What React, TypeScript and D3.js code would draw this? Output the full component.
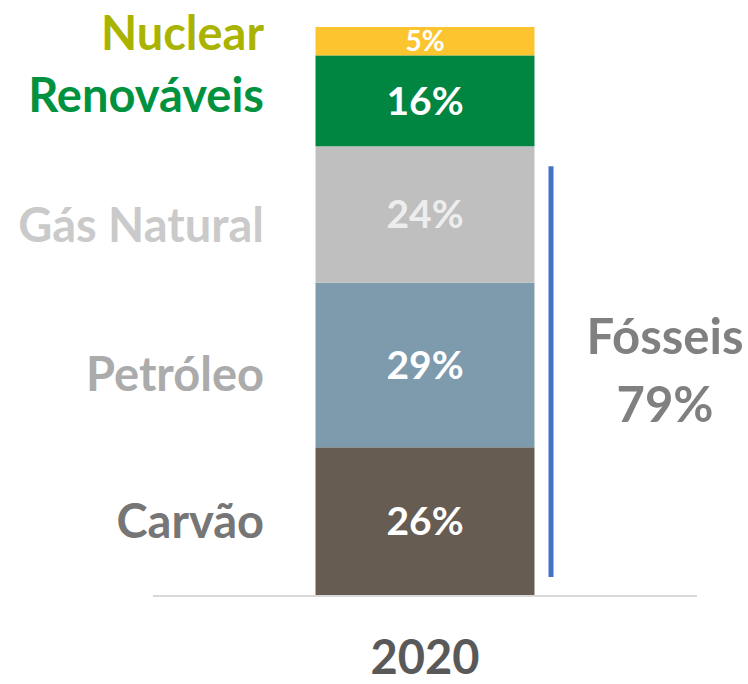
import React from 'react';
import * as d3 from 'd3';

const categories = ['Carvão', 'Petróleo', 'Gás Natural', 'Renováveis', 'Nuclear'];
const shares = [26, 29, 24, 16, 5];
const years = ['2020'];
const fossilLabel = 'Fósseis';
const fossilShare = 79;

const barColors = ['#665C52', '#7D9BAD', '#BFBFBF', '#008641', '#FCC530'];
const labelColors = ['#767676', '#ABABAB', '#CACACA', '#00923F', '#AAB400'];
const valueColors = ['#FFFFFF', '#FFFFFF', '#EDEDED', '#FFFFFF', '#FFFFFF'];
const labelNudge = [0, 9, 11, -6, -8];

const App = () => {
  const width = 748;
  const height = 684;
  const font = 'Lato, "Noto Sans", sans-serif';

  const x = d3.scaleBand().domain(years).range([153, 697]).padding(0.426);
  const y = d3.scaleLinear().domain([0, 100]).range([595, 27]);

  const stack = d3.stack<number[]>().keys(categories.map((_, i) => String(i)))
    .value((d, k) => d[+k]);
  const series = stack([shares]);

  const bx = x('2020') as number;
  const bw = x.bandwidth();

  return (
    <svg width={width} height={height} style={{ position: 'absolute', left: 0, top: 0 }}>
      {series.map((s, i) => {
        const [y0, y1] = s[0];
        const mid = (y(y0) + y(y1)) / 2;
        return (
          <g key={categories[i]}>
            <rect x={bx} y={y(y1)} width={bw} height={y(y0) - y(y1)} fill={barColors[i]} />
            <text
              x={bx + bw / 2}
              y={mid}
              dy="0.36em"
              textAnchor="middle"
              fontFamily={font}
              fontWeight={700}
              fontSize={shares[i] < 10 ? 28 : 39}
              fill={valueColors[i]}
            >
              {shares[i]}%
            </text>
            <text
              x={264}
              y={mid + labelNudge[i]}
              dy="0.36em"
              textAnchor="end"
              fontFamily={font}
              fontWeight={700}
              fontSize={47}
              fill={labelColors[i]}
            >
              {categories[i]}
            </text>
          </g>
        );
      })}
      <line x1={153} x2={697} y1={y(0) + 1} y2={y(0) + 1} stroke="#D9D9D9" strokeWidth={2} />
      <text
        x={bx + bw / 2}
        y={674}
        textAnchor="middle"
        fontFamily={font}
        fontWeight={700}
        fontSize={47}
        fill="#595959"
      >
        {years[0]}
      </text>
      <line
        x1={551}
        x2={551}
        y1={y(fossilShare) + 20}
        y2={y(0) - 18}
        stroke="#4472C4"
        strokeWidth={5}
      />
      <text textAnchor="middle" fontFamily={font} fontWeight={700} fontSize={49} fill="#808080">
        <tspan x={665} y={354}>{fossilLabel}</tspan>
        <tspan x={665} y={422}>{fossilShare}%</tspan>
      </text>
    </svg>
  );
};

export default App;
